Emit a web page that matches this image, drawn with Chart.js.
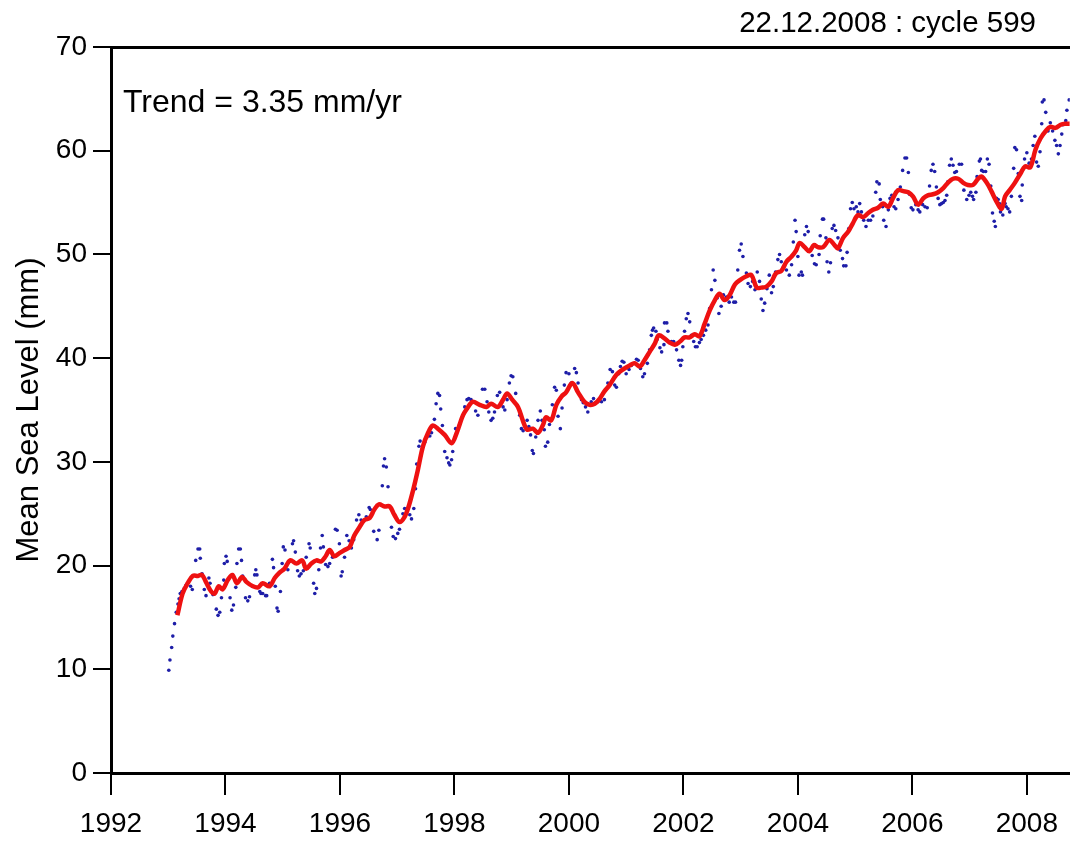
<!DOCTYPE html>
<html>
<head>
<meta charset="utf-8">
<script src="https://cdn.jsdelivr.net/npm/chart.js@4.4.1/dist/chart.umd.min.js"></script>
<style>
  html, body { margin: 0; padding: 0; background: #ffffff; }
  #wrap { position: relative; width: 1070px; height: 843px; }
</style>
</head>
<body>
<div id="wrap"><canvas id="c"></canvas></div>
<script>
// ---- Data ----
const xTickYears = [1992, 1994, 1996, 1998, 2000, 2002, 2004, 2006, 2008];
const yTickValues = [0, 10, 20, 30, 40, 50, 60, 70];
const titleText = "22.12.2008 : cycle 599";
const trendText = "Trend = 3.35 mm/yr";
const yAxisTitle = "Mean Sea Level (mm)";

// Smoothed series (red line)
const smoothYears = [
  1993.16,1993.25,1993.34,1993.43,1993.52,1993.59,1993.66,1993.75,1993.81,1993.88,1993.95,
  1994.04,1994.12,1994.20,1994.29,1994.37,1994.48,1994.57,1994.65,1994.77,1994.86,1994.94,
  1995.03,1995.13,1995.24,1995.34,1995.41,1995.50,1995.59,1995.67,1995.75,1995.82,1995.90,1995.99,
  1996.08,1996.17,1996.25,1996.34,1996.43,1996.52,1996.60,1996.68,1996.78,1996.87,1996.95,
  1997.04,1997.13,1997.20,1997.27,1997.36,1997.45,1997.54,1997.62,1997.71,1997.83,1997.95,
  1998.04,1998.15,1998.24,1998.32,1998.44,1998.56,1998.64,1998.76,1998.85,1998.92,
  1999.01,1999.11,1999.20,1999.27,1999.37,1999.46,1999.55,1999.60,1999.69,1999.78,1999.87,1999.95,
  2000.06,2000.16,2000.27,2000.36,2000.45,2000.54,2000.62,2000.71,2000.83,2000.94,
  2001.06,2001.15,2001.24,2001.32,2001.41,2001.50,2001.57,2001.67,2001.76,2001.85,2001.94,
  2002.02,2002.11,2002.20,2002.28,2002.37,2002.46,2002.55,2002.63,2002.72,2002.81,2002.90,2002.98,
  2003.10,2003.19,2003.28,2003.36,2003.45,2003.54,2003.62,2003.71,2003.80,2003.89,2003.97,
  2004.03,2004.12,2004.20,2004.28,2004.35,2004.44,2004.55,2004.64,2004.70,2004.79,2004.88,2004.96,
  2005.05,2005.14,2005.23,2005.31,2005.40,2005.49,2005.58,2005.66,2005.75,2005.84,2005.93,
  2006.01,2006.10,2006.19,2006.27,2006.36,2006.45,2006.54,2006.62,2006.71,2006.80,2006.89,2006.97,
  2007.06,2007.15,2007.21,2007.30,2007.38,2007.47,2007.56,2007.62,2007.70,2007.79,2007.89,2007.97,
  2008.06,2008.15,2008.24,2008.33,2008.41,2008.50,2008.59,2008.67,2008.75
];
const smoothValues = [
  15.2,17.3,18.3,19.0,19.0,19.1,18.4,17.5,17.3,18.0,17.7,
  18.6,19.1,18.3,18.9,18.4,18.0,17.9,18.3,18.0,18.8,19.3,
  19.7,20.5,20.2,20.5,19.7,20.2,20.5,20.4,20.9,21.5,20.9,21.2,
  21.5,21.8,22.9,23.7,24.4,24.6,25.4,25.9,25.7,25.7,24.9,
  24.2,24.7,25.7,27.1,29.2,31.5,32.8,33.5,33.2,32.6,31.8,
  32.8,34.5,35.3,35.8,35.5,35.3,35.6,35.3,36.0,36.6,
  36.0,35.3,33.9,33.1,33.2,32.8,33.6,34.3,34.0,35.5,36.3,36.7,
  37.6,36.7,35.8,35.5,35.6,36.1,36.8,37.4,38.4,38.9,
  39.3,39.5,39.2,39.8,40.6,41.4,42.2,41.9,41.5,41.3,41.6,
  42.0,42.0,42.3,42.1,43.3,44.6,45.6,46.2,45.6,46.1,47.1,47.5,
  47.9,48.0,46.8,46.8,46.9,47.4,48.2,48.4,49.3,49.8,50.4,
  51.1,50.7,50.3,50.9,50.7,50.7,51.4,50.9,50.6,51.6,52.2,53.0,
  53.8,53.6,54.0,54.3,54.5,54.9,54.6,55.4,56.2,56.1,56.0,
  55.6,54.8,55.4,55.7,55.8,56.0,56.4,56.9,57.3,57.3,56.9,56.7,
  56.7,57.3,57.5,56.9,56.1,55.1,54.4,55.6,56.2,56.9,57.8,58.5,
  58.4,60.1,61.2,61.9,62.3,62.2,62.5,62.6,62.6
];

// Individual cycle values (blue dots)
const cycleYears = [
  1993.01,1993.03,1993.06,1993.08,1993.11,1993.14,1993.17,1993.19,1993.21,1993.24,1993.28,1993.31,
  1993.39,1993.42,1993.48,1993.52,1993.55,1993.56,1993.59,1993.63,1993.66,1993.71,1993.73,1993.78,
  1993.84,1993.87,1993.90,1993.93,1993.97,1993.98,1994.01,1994.03,1994.08,1994.11,1994.14,1994.18,
  1994.20,1994.23,1994.26,1994.28,1994.30,1994.35,1994.39,1994.42,1994.47,1994.51,1994.53,1994.55,
  1994.60,1994.62,1994.65,1994.70,1994.72,1994.77,1994.82,1994.84,1994.87,1994.90,1994.92,1994.96,
  1994.99,1995.01,1995.04,1995.09,1995.12,1995.17,1995.19,1995.22,1995.26,1995.29,1995.32,1995.36,
  1995.41,1995.46,1995.48,1995.54,1995.56,1995.59,1995.63,1995.66,1995.69,1995.71,1995.75,1995.79,
  1995.82,1995.87,1995.92,1995.95,1995.99,1996.02,1996.04,1996.08,1996.12,1996.16,1996.20,1996.24,
  1996.29,1996.33,1996.37,1996.41,1996.46,1996.51,1996.53,1996.59,1996.65,
  1996.68,1996.74,1996.76,1996.78,1996.81,1996.84,1996.90,1996.93,1996.97,1997.01,1997.04,1997.10,
  1997.13,1997.19,1997.22,1997.25,1997.29,1997.32,1997.34,1997.38,1997.40,1997.45,1997.48,1997.52,
  1997.57,1997.60,1997.65,1997.68,1997.71,1997.74,1997.76,1997.79,1997.83,1997.87,1997.90,1997.92,
  1997.95,1997.97,1998.02,1998.06,1998.09,1998.18,1998.22,1998.25,1998.29,1998.37,1998.41,1998.49,
  1998.53,1998.57,1998.60,1998.64,1998.67,1998.70,1998.75,1998.79,1998.85,1998.88,1998.92,1998.96,
  1998.99,1999.02,1999.07,1999.14,1999.17,1999.20,1999.27,1999.30,1999.33,1999.36,1999.38,1999.42,
  1999.46,1999.50,1999.53,1999.57,1999.59,1999.63,1999.66,1999.71,1999.75,1999.78,1999.81,1999.85,
  1999.88,1999.92,1999.95,2000.00,2000.04,2000.10,2000.13,2000.16,2000.22,2000.25,2000.29,2000.33,
  2000.39,2000.43,2000.51,2000.57,2000.62,2000.68,2000.72,2000.76,2000.80,2000.83,2000.87,2000.90,
  2000.93,2000.96,2001.00,2001.05,2001.09,2001.14,2001.18,2001.21,2001.25,2001.29,2001.32,2001.37,
  2001.41,2001.44,2001.46,2001.48,2001.52,2001.54,2001.59,2001.62,2001.66,2001.67,2001.71,2001.73,
  2001.79,2001.83,2001.88,2001.92,2001.95,2001.97,2001.99,2002.02,2002.05,2002.08,2002.11,2002.14,
  2002.18,2002.21,2002.24,2002.28,2002.31,2002.35,2002.39,2002.43,2002.46,2002.49,2002.52,2002.55,
  2002.59,2002.62,2002.66,2002.70,2002.75,2002.80,2002.84,2002.88,2002.91,2002.95,2002.98,2003.01,
  2003.04,2003.10,2003.13,2003.17,2003.21,2003.25,2003.29,2003.33,2003.36,2003.39,2003.42,2003.46,
  2003.50,2003.54,2003.57,2003.61,2003.65,2003.68,2003.71,2003.75,2003.80,2003.85,2003.89,2003.92,
  2003.95,2003.97,2004.00,2004.02,
  2004.06,2004.08,2004.12,2004.15,2004.18,2004.21,2004.25,2004.29,2004.32,2004.37,2004.39,2004.43,
  2004.45,2004.49,2004.51,2004.54,2004.57,2004.60,2004.63,2004.66,2004.70,2004.74,2004.78,2004.80,
  2004.84,2004.86,2004.89,2004.92,2004.95,2004.98,2005.02,2005.05,2005.08,2005.11,2005.15,2005.19,
  2005.23,2005.27,2005.31,2005.36,2005.38,2005.42,2005.44,2005.48,2005.50,2005.54,2005.58,2005.61,
  2005.64,2005.68,2005.71,2005.75,2005.79,2005.83,2005.87,2005.90,2005.93,2005.95,2005.98,2006.01,
  2006.06,2006.10,2006.13,2006.18,2006.22,2006.26,2006.30,2006.33,2006.36,2006.39,2006.42,2006.45,
  2006.48,2006.51,2006.54,2006.57,2006.60,2006.62,2006.65,2006.68,2006.71,2006.74,2006.77,2006.82,
  2006.86,2006.90,2006.95,
  2006.99,2007.02,2007.05,2007.07,2007.11,2007.13,2007.17,2007.19,2007.21,2007.24,2007.28,2007.31,
  2007.34,2007.37,2007.40,2007.43,2007.45,2007.47,2007.50,2007.52,2007.54,2007.58,2007.62,2007.64,
  2007.67,2007.70,2007.73,2007.77,2007.79,2007.82,2007.85,2007.88,2007.91,2007.92,2007.96,2008.00,
  2008.04,2008.08,2008.11,2008.14,2008.17,2008.20,2008.23,2008.26,2008.27,2008.30,2008.33,2008.37,
  2008.41,2008.45,2008.49,2008.52,2008.55,2008.58,2008.61,2008.63,2008.68,2008.70,2008.74
];
const cycleValues = [
  9.9,10.9,12.1,13.2,14.4,15.5,16.3,16.8,17.3,17.5,17.8,18.1,
  18.0,17.7,20.5,21.6,21.6,20.7,19.2,17.7,17.1,18.8,18.3,17.2,
  15.8,15.2,15.5,16.9,18.6,20.2,20.9,20.4,16.9,15.7,16.2,17.9,
  20.2,21.6,21.6,20.5,19.0,16.9,16.6,17.0,18.0,19.1,19.6,19.1,
  17.5,17.3,17.3,17.1,17.1,18.3,20.6,19.8,18.0,15.9,15.6,17.5,
  20.2,21.8,21.5,19.6,20.4,22.1,22.4,21.3,19.5,19.0,19.2,19.5,
  20.8,22.1,21.7,18.3,17.3,17.8,19.6,21.7,22.9,21.8,20.1,19.9,
  20.2,20.8,23.5,23.4,22.1,19.0,19.4,20.8,22.9,22.4,21.7,22.5,
  24.4,24.9,24.4,24.3,24.7,25.6,25.4,23.3,22.5,
  23.4,27.7,29.6,30.3,29.5,27.6,23.7,22.8,22.6,23.1,23.5,25.0,
  25.5,25.5,24.9,24.5,25.5,27.4,29.8,31.5,32.0,31.5,31.9,32.4,
  32.5,32.8,34.1,35.6,36.6,36.4,35.1,33.5,31.0,30.4,29.9,29.7,
  30.2,31.0,33.2,33.2,33.6,35.3,36.0,36.1,36.0,34.9,34.5,37.0,
  37.0,35.8,34.8,34.0,34.2,34.8,36.4,36.7,35.3,35.0,36.0,37.6,
  38.3,38.2,36.6,34.5,33.2,33.0,34.0,33.4,32.6,31.1,30.8,32.4,
  34.0,34.9,34.0,33.1,31.5,31.9,33.6,35.5,37.2,36.9,34.4,33.2,
  35.2,37.4,38.6,38.5,37.6,39.0,38.6,37.6,36.0,35.7,35.3,34.8,
  35.8,36.1,35.8,35.8,36.0,37.6,38.9,38.7,37.4,37.2,38.5,39.2,
  39.7,39.6,38.5,38.9,39.3,39.5,39.9,39.8,39.0,38.2,38.5,39.5,
  40.8,42.2,42.7,42.9,42.6,41.8,41.0,40.6,41.3,43.4,43.4,42.6,
  41.6,41.6,40.8,39.8,39.3,39.8,41.1,42.6,43.8,44.3,43.5,42.2,
  41.6,41.1,41.1,41.5,41.8,42.2,42.7,43.2,44.8,46.6,48.5,47.5,
  45.8,44.3,45.0,46.1,45.9,45.4,45.9,45.4,45.4,48.5,50.4,51.0,
  49.8,48.2,47.2,46.9,47.4,46.6,48.3,47.4,45.7,44.6,45.3,46.7,
  48.0,46.3,46.9,48.3,49.5,50.0,49.3,48.8,48.5,48.0,49.0,51.2,
  53.3,52.2,49.8,48.0,
  48.3,48.0,51.9,52.7,52.2,50.4,49.9,49.1,49.0,50.0,51.8,53.4,
  53.4,51.6,49.3,48.3,49.2,52.5,52.8,52.3,51.6,50.4,49.6,48.9,
  48.9,50.2,52.5,54.4,55.0,54.4,54.6,54.1,54.9,54.1,53.3,52.7,
  53.3,53.3,53.7,56.0,57.0,56.8,55.3,54.6,53.3,52.7,54.3,55.4,
  55.7,54.6,54.4,55.3,56.5,58.1,59.3,59.3,57.9,55.8,54.5,54.3,
  54.8,54.3,54.1,54.8,54.6,54.5,56.6,58.1,58.7,58.0,56.5,55.4,
  54.8,54.9,55.0,55.2,55.7,57.0,58.6,59.2,58.6,57.9,58.0,58.7,
  58.7,56.2,55.3,
  55.7,56.0,55.6,55.3,56.0,57.5,59.0,59.2,58.1,58.0,58.0,59.2,
  58.7,56.6,54.0,53.2,52.7,55.4,55.3,54.9,54.1,53.8,54.9,54.6,
  54.4,54.1,55.6,58.3,60.3,60.1,57.8,55.6,55.2,56.7,59.2,59.8,
  58.8,59.2,60.5,61.4,58.9,58.5,59.9,62.6,64.7,64.9,63.7,61.9,
  62.7,61.9,61.0,60.5,59.7,60.5,61.6,62.5,62.9,63.9,64.9
];

// ---- Build chart ----
const FONT = '"Liberation Sans", Arial, Helvetica, sans-serif';
const smoothPoints = smoothYears.map((x, i) => ({ x: x, y: smoothValues[i] }));
const cyclePoints = cycleYears.map((x, i) => ({ x: x, y: cycleValues[i] }));

const textPlugin = {
  id: 'textPlugin',
  afterDraw(chart) {
    const ctx = chart.ctx;
    const a = chart.chartArea;
    ctx.save();
    ctx.fillStyle = '#000';
    ctx.textBaseline = 'alphabetic';
    ctx.font = '32px ' + FONT;
    ctx.textAlign = 'left';
    ctx.fillText(trendText, a.left + 12, 112);
    ctx.font = '29.5px ' + FONT;
    ctx.textAlign = 'right';
    ctx.fillText(titleText, 1036, 32);
    ctx.restore();
  }
};

new Chart(document.getElementById('c'), {
  type: 'scatter',
  data: {
    datasets: [
      {
        type: 'line',
        label: 'smoothed',
        data: smoothPoints,
        borderColor: '#ee1111',
        borderWidth: 4.5,
        pointRadius: 0,
        tension: 0.35,
        fill: false,
        order: 1
      },
      {
        type: 'scatter',
        label: 'cycles',
        data: cyclePoints,
        backgroundColor: '#1e1ea8',
        borderWidth: 0,
        pointRadius: 1.8,
        order: 2
      }
    ]
  },
  options: {
    responsive: true,
    maintainAspectRatio: false,
    animation: false,
    layout: { autoPadding: false, padding: { top: 47, left: 0, right: 0, bottom: 0 } },
    plugins: {
      legend: { display: false },
      tooltip: { enabled: false },
      title: { display: false }
    },
    scales: {
      x: {
        type: 'linear',
        position: 'bottom',
        min: 1992,
        max: 2008.75,
        afterFit(s) { s.height = 70; },
        afterBuildTicks(s) { s.ticks = xTickYears.map(v => ({ value: v })); },
        ticks: {
          color: '#000',
          font: { family: FONT, size: 28 },
          padding: 12,
          maxRotation: 0,
          autoSkip: false,
          callback: v => String(v)
        },
        grid: {
          display: true,
          drawOnChartArea: false,
          drawTicks: true,
          tickLength: 22,
          lineWidth: 2,
          color: '#000'
        },
        border: { display: true, width: 3, color: '#000' }
      },
      xTop: {
        type: 'linear',
        position: 'top',
        display: true,
        afterFit(s) { s.height = 0; },
        ticks: { display: false },
        grid: { display: false, drawTicks: false },
        border: { display: true, width: 3, color: '#000' }
      },
      y: {
        type: 'linear',
        position: 'left',
        min: 0,
        max: 70,
        afterFit(s) { s.width = 111; },
        afterBuildTicks(s) { s.ticks = yTickValues.map(v => ({ value: v })); },
        ticks: {
          color: '#000',
          font: { family: FONT, size: 28 },
          padding: 6,
          callback: v => String(v)
        },
        grid: {
          display: true,
          drawOnChartArea: false,
          drawTicks: true,
          tickLength: 18,
          lineWidth: 2,
          color: '#000'
        },
        border: { display: true, width: 3, color: '#000' },
        title: {
          display: true,
          text: yAxisTitle,
          color: '#000',
          font: { family: FONT, size: 31 },
          padding: { top: 11, bottom: 0 }
        }
      }
    }
  },
  plugins: [textPlugin]
});
</script>
</body>
</html>
